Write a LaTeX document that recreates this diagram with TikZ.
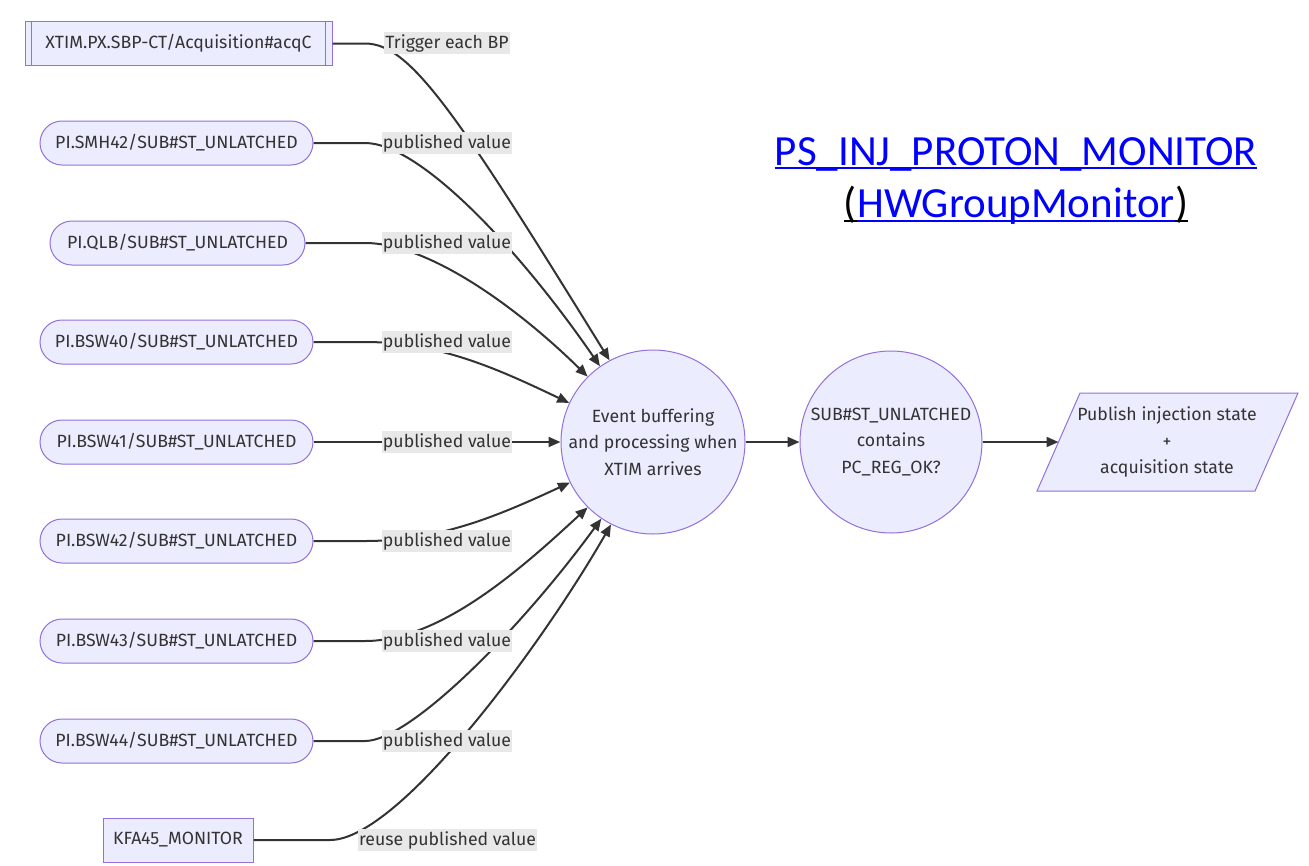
\documentclass[tikz,border=0pt]{standalone}
\usepackage{fontspec}
\setmainfont{Fira Sans}
\newfontfamily\titlefont{Carlito}
\usetikzlibrary{arrows.meta}
\definecolor{nodefill}{HTML}{ECECFF}
\definecolor{nodeline}{HTML}{9370DB}
\definecolor{ink}{HTML}{333333}
\definecolor{labelbg}{HTML}{E8E8E8}
\definecolor{linkblue}{HTML}{0000FF}

\begin{document}
\begin{tikzpicture}[x=1pt,y=-1pt,
  txt/.style={font=\fontsize{17.7}{26.5}\selectfont, text=ink},
  box/.style={txt, draw=nodeline, fill=nodefill, line width=1pt, inner sep=0pt, minimum height=44pt},
  stadium/.style={box, rounded corners=22pt},
  bubble/.style={box, circle, minimum size=184pt, align=center},
  lbl/.style={txt, fill=labelbg, inner xsep=1pt, inner ysep=2pt},
  flow/.style={draw=ink, line width=2pt, -{Triangle[length=12pt,width=10pt]}},
  heading/.style={font=\titlefont\fontsize{43}{50}\selectfont, text=linkblue, inner sep=0pt},
]
\useasboundingbox (0,0) rectangle (1309,865);
\fill[white] (0,0) rectangle (1309,865);

% source nodes
\node[box, minimum width=307pt] (xt) at (178.5,43.5) {XTIM.PX.SBP-CT/Acquisition\#acqC};
\draw[draw=nodeline, line width=1pt] ([xshift=7pt]xt.north west) -- ([xshift=7pt]xt.south west)
  ([xshift=-7pt]xt.north east) -- ([xshift=-7pt]xt.south east);
\node[stadium, minimum width=273pt] (smh) at (176.5,143) {PI.SMH42/SUB\#ST\_UNLATCHED};
\node[stadium, minimum width=255pt] (qlb) at (177.5,243) {PI.QLB/SUB\#ST\_UNLATCHED};
\node[stadium, minimum width=273pt] (b40) at (176.5,342) {PI.BSW40/SUB\#ST\_UNLATCHED};
\node[stadium, minimum width=273pt] (b41) at (176.5,442) {PI.BSW41/SUB\#ST\_UNLATCHED};
\node[stadium, minimum width=273pt] (b42) at (176.5,541) {PI.BSW42/SUB\#ST\_UNLATCHED};
\node[stadium, minimum width=273pt] (b43) at (176.5,641) {PI.BSW43/SUB\#ST\_UNLATCHED};
\node[stadium, minimum width=273pt] (b44) at (176.5,741) {PI.BSW44/SUB\#ST\_UNLATCHED};
\node[box, minimum width=150pt] (kfa) at (178,840) {KFA45\_MONITOR};

% processing nodes
\node[bubble] (ev) at (653,442) {Event buffering\\and processing when\\XTIM arrives};
\node[bubble, minimum size=182pt] (chk) at (891,442) {SUB\#ST\_UNLATCHED\\contains\\PC\_REG\_OK?};

% output parallelogram
\coordinate (p1) at (1080,393);
\coordinate (p2) at (1298,393);
\coordinate (p3) at (1255,491);
\coordinate (p4) at (1037,491);
\coordinate (pubin) at (1058.5,442);
\draw[draw=nodeline, fill=nodefill, line width=1pt] (p1) -- (p2) -- (p3) -- (p4) -- cycle;
\node[txt, align=center] (pub) at (1167,442) {Publish injection state\\+\\acquisition state};

% connectors
\draw[flow] (xt.east) -- (365,43.5) .. controls (410,43.5) and (455,110) .. (ev.118);
\draw[flow] (smh.east) -- (365,143) .. controls (420,143) and (520,250) .. (ev.125);
\draw[flow] (qlb.east) -- (365,243) .. controls (430,243) and (520,310) .. (ev.135);
\draw[flow] (b40.east) -- (365,342) .. controls (440,342) and (500,370) .. (ev.155);
\draw[flow] (b41.east) -- (ev.west);
\draw[flow] (b42.east) -- (365,541) .. controls (440,541) and (500,515) .. (ev.206);
\draw[flow] (b43.east) -- (365,641) .. controls (440,641) and (520,570) .. (ev.225);
\draw[flow] (b44.east) -- (365,741) .. controls (410,741) and (520,630) .. (ev.236);
\draw[flow] (kfa.east) -- (330,840) .. controls (400,840) and (545,640) .. (ev.243);
\draw[flow] (ev.east) -- (chk.west);
\draw[flow] (chk.east) -- (pubin);

% connector labels
\node[lbl] (l0) at (447,43) {Trigger each BP};
\node[lbl] (l1) at (447,143) {published value};
\node[lbl] (l2) at (447,243) {published value};
\node[lbl] (l3) at (447,342) {published value};
\node[lbl] (l4) at (447,442) {published value};
\node[lbl] (l5) at (447,541) {published value};
\node[lbl] (l6) at (447,641) {published value};
\node[lbl] (l7) at (447,741) {published value};
\node[lbl] (l8) at (447.5,840) {reuse published value};

% title
\node[heading, anchor=base] (t1) at (1016,165) {PS\_INJ\_PROTON\_MONITOR\hspace{0.23em}};
\draw[linkblue, line width=2.2pt] ([yshift=-3pt]t1.base west) -- ([yshift=-3pt]t1.base east);
\node[heading, anchor=base] (hw) at (1016,217) {HWGroupMonitor};
\node[heading, text=black, anchor=base east] (lp) at (hw.base west) {(};
\node[heading, text=black, anchor=base west] (rp) at (hw.base east) {)};
\draw[linkblue, line width=2.2pt] ([yshift=-4pt]hw.base west) -- ([yshift=-4pt]hw.base east);
\draw[black, line width=2.2pt] ([yshift=-4pt]lp.base west) -- ([yshift=-4pt]lp.base east);
\draw[black, line width=2.2pt] ([yshift=-4pt]rp.base west) -- ([yshift=-4pt]rp.base east);
\end{tikzpicture}
\end{document}
